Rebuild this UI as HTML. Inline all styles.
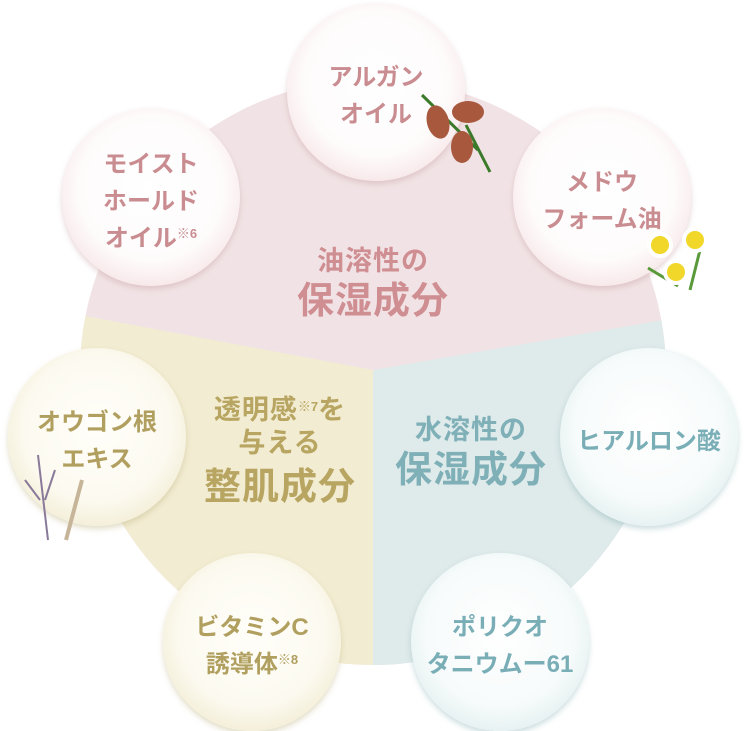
<!DOCTYPE html>
<html><head><meta charset="utf-8"><style>
body{margin:0;width:750px;height:731px;background:#fff;overflow:hidden;position:relative;font-family:"Liberation Sans","Noto Sans CJK JP",sans-serif;font-weight:bold}
.b{position:absolute;width:178px;height:178px;border-radius:50%;display:flex;align-items:center;justify-content:center;text-align:center;font-size:24px;line-height:37px;letter-spacing:0;box-sizing:border-box;padding-top:8px}
.b>span{display:block}
.p{background:radial-gradient(circle at 50% 45%,#fff 0,#fefbfb 55%,#f6e4e6 80%,#e9c9cc 100%);color:#c98c90;box-shadow:0 3px 6px rgba(200,160,165,.45)}
.y{background:radial-gradient(circle at 50% 45%,#fffef9 0,#fcfaf0 55%,#f2ecd3 80%,#e2d8ad 100%);color:#b09f5e;box-shadow:0 3px 6px rgba(190,180,130,.45)}
.t{background:radial-gradient(circle at 50% 45%,#fff 0,#f7fbfb 55%,#e2efef 80%,#c6dede 100%);color:#7aaeb7;box-shadow:0 3px 6px rgba(140,180,185,.45)}
sup{font-size:13px;vertical-align:8px;line-height:0;letter-spacing:0}
.l{position:absolute;text-align:center}
.l div{white-space:nowrap}
.s{font-size:27px;line-height:32px;letter-spacing:1px}
.g{font-size:37px;line-height:48px;letter-spacing:1px}
</style></head><body>
<svg width="750" height="731" style="position:absolute;left:0;top:0">
<defs><clipPath id="c"><circle cx="373" cy="372" r="293"/></clipPath></defs>
<g clip-path="url(#c)">
<rect x="0" y="0" width="750" height="731" fill="#f1e3e5"/>
<polygon points="373,370 0,300 0,731 373,731" fill="#f2ecd2"/>
<polygon points="373,370 750,305 750,731 373,731" fill="#dfeaea"/>
</g>
</svg>
<div class="b p" style="left:287px;top:3px"><span>アルガン<br>オイル</span></div>
<div class="b p" style="left:62px;top:108px"><span>モイスト<br>ホールド<br>オイル<sup>※6</sup></span></div>
<div class="b p" style="left:513px;top:108px"><span>メドウ<br>フォーム油</span></div>
<div class="b y" style="left:8px;top:348px"><span>オウゴン根<br>エキス</span></div>
<div class="b t" style="left:560px;top:348px"><span>ヒアルロン酸</span></div>
<div class="b y" style="left:163px;top:553px"><span>ビタミンC<br>誘導体<sup>※8</sup></span></div>
<div class="b t" style="left:411px;top:553px"><span>ポリクオ<br>タニウムー61</span></div>
<svg width="750" height="731" style="position:absolute;left:0;top:0">
<g>
<path d="M422 95 L478 150 M466 125 L490 172" stroke="#3b7a2a" stroke-width="3" fill="none"/>
<ellipse cx="438" cy="122" rx="11" ry="17" fill="#a8583d" transform="rotate(-15 438 122)"/>
<ellipse cx="468" cy="112" rx="16" ry="11" fill="#a8583d"/>
<ellipse cx="462" cy="147" rx="11" ry="16" fill="#a8583d"/>
</g>
<g>
<path d="M648 268 l30 18 M700 250 l-10 40" stroke="#5a9a3a" stroke-width="3"/>
<circle cx="660" cy="245" r="11" fill="#f0d72a" stroke="#fff" stroke-width="4"/>
<circle cx="695" cy="240" r="11" fill="#f0d72a" stroke="#fff" stroke-width="4"/>
<circle cx="676" cy="272" r="11" fill="#f0d72a" stroke="#fff" stroke-width="4"/>
</g>
<g stroke="#8a7a9a" stroke-width="2" fill="none">
<path d="M38 455 L48 540 M25 480 L40 500 M55 470 L45 500"/>
<path d="M82 480 L66 540" stroke="#c7b59a" stroke-width="4"/>
</g>
</svg>
<div class="l" style="left:223px;top:245px;width:300px;color:#cf8e92"><div class="s">油溶性の</div><div class="g">保湿成分</div></div>
<div class="l" style="left:130px;top:394px;width:300px;color:#b7a561"><div class="s" style="line-height:33px">透明感<sup>※7</sup>を</div><div class="s" style="line-height:33px">与える</div><div class="g" style="line-height:54px">整肌成分</div></div>
<div class="l" style="left:321px;top:414px;width:300px;color:#7fb0b8"><div class="s">水溶性の</div><div class="g">保湿成分</div></div>
</body></html>
